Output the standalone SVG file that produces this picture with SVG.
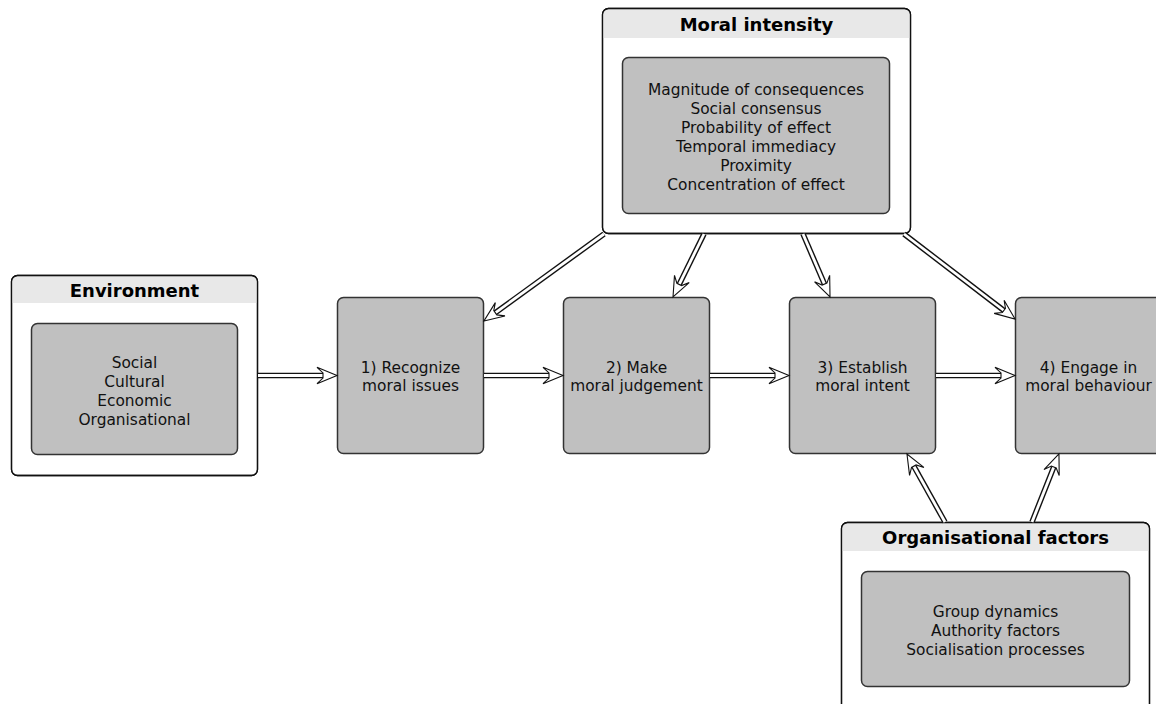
<svg xmlns="http://www.w3.org/2000/svg" width="1156" height="704" viewBox="0 0 1156 704">
<style>
.outer{fill:#fff;stroke:#111;stroke-width:1.3}
.frame{fill:none;stroke:#111;stroke-width:1.3}
.hdr{fill:#e8e8e8;stroke:none}
.inner{fill:#c0c0c0;stroke:#333;stroke-width:1.5}
.title{font-family:"DejaVu Sans",Verdana,sans-serif;font-size:18px;font-weight:bold;fill:#000;text-anchor:middle}
.txt{font-family:"DejaVu Sans",Verdana,sans-serif;font-size:15.4px;fill:#111;text-anchor:middle}
.sb{fill:none;stroke:#111;stroke-width:5.6}
.sw{fill:none;stroke:#fff;stroke-width:2.8;marker-end:url(#ah)}
</style>
<defs>
<marker id="ah" viewBox="0 0 24 18" markerWidth="24" markerHeight="18" refX="8" refY="9" markerUnits="userSpaceOnUse" orient="auto" overflow="visible">
<path d="M22,9 L2,0.8 L8,6.4 L8,11.6 L2,17.2 Z" fill="#fff" stroke="#111" stroke-width="1.1" stroke-linejoin="miter"/>
</marker>
</defs>

<g id="environment">
<rect class="outer" x="11.5" y="275.5" width="246" height="200" rx="6"/>
<path class="hdr" d="M12.2,303 V281.5 a5.3,5.3 0 0 1 5.3,-5.3 H251.5 a5.3,5.3 0 0 1 5.3,5.3 V303 Z"/>
<rect class="frame" x="11.5" y="275.5" width="246" height="200" rx="6"/>
<text class="title" x="134.5" y="297">Environment</text>
<rect class="inner" x="31.5" y="323.5" width="206" height="131" rx="6"/>
<text class="txt" x="134.5" y="368">Social</text>
<text class="txt" x="134.5" y="387">Cultural</text>
<text class="txt" x="134.5" y="406">Economic</text>
<text class="txt" x="134.5" y="425">Organisational</text>
</g>

<g id="moral-intensity">
<rect class="outer" x="602.5" y="8.5" width="308" height="225" rx="6"/>
<path class="hdr" d="M603.2,38 V14.5 a5.3,5.3 0 0 1 5.3,-5.3 H904.5 a5.3,5.3 0 0 1 5.3,5.3 V38 Z"/>
<rect class="frame" x="602.5" y="8.5" width="308" height="225" rx="6"/>
<text class="title" x="756.5" y="31">Moral intensity</text>
<rect class="inner" x="622.5" y="57.5" width="267" height="156" rx="6"/>
<text class="txt" x="756" y="95">Magnitude of consequences</text>
<text class="txt" x="756" y="114">Social consensus</text>
<text class="txt" x="756" y="133">Probability of effect</text>
<text class="txt" x="756" y="152">Temporal immediacy</text>
<text class="txt" x="756" y="171">Proximity</text>
<text class="txt" x="756" y="190">Concentration of effect</text>
</g>

<g id="organisational-factors">
<rect class="outer" x="841.5" y="522.5" width="308" height="200" rx="6"/>
<path class="hdr" d="M842.2,551 V528.5 a5.3,5.3 0 0 1 5.3,-5.3 H1143.5 a5.3,5.3 0 0 1 5.3,5.3 V551 Z"/>
<rect class="frame" x="841.5" y="522.5" width="308" height="200" rx="6"/>
<text class="title" x="995.5" y="544">Organisational factors</text>
<rect class="inner" x="861.5" y="571.5" width="268" height="115" rx="6"/>
<text class="txt" x="995.5" y="617">Group dynamics</text>
<text class="txt" x="995.5" y="636">Authority factors</text>
<text class="txt" x="995.5" y="655">Socialisation processes</text>
</g>

<g id="step1">
<rect class="inner" x="337.5" y="297.5" width="146" height="156" rx="6"/>
<text class="txt" x="410.5" y="373">1) Recognize</text>
<text class="txt" x="410.5" y="391">moral issues</text>
</g>
<g id="step2">
<rect class="inner" x="563.5" y="297.5" width="146" height="156" rx="6"/>
<text class="txt" x="636.5" y="373">2) Make</text>
<text class="txt" x="636.5" y="391">moral judgement</text>
</g>
<g id="step3">
<rect class="inner" x="789.5" y="297.5" width="146" height="156" rx="6"/>
<text class="txt" x="862.5" y="373">3) Establish</text>
<text class="txt" x="862.5" y="391">moral intent</text>
</g>
<g id="step4">
<rect class="inner" x="1015.5" y="297.5" width="146" height="156" rx="6"/>
<text class="txt" x="1088.5" y="373">4) Engage in</text>
<text class="txt" x="1088.5" y="391">moral behaviour</text>
</g>

<g id="connectors">
<path class="sb" d="M258,375.5 H323"/><path class="sw" d="M258,375.5 H323"/>
<path class="sb" d="M484,375.5 H549"/><path class="sw" d="M484,375.5 H549"/>
<path class="sb" d="M710,375.5 H775"/><path class="sw" d="M710,375.5 H775"/>
<path class="sb" d="M936,375.5 H1001"/><path class="sw" d="M936,375.5 H1001"/>
<path class="sb" d="M604,234 L495.3,312.8"/><path class="sw" d="M604,234 L495.3,312.8"/>
<path class="sb" d="M704,234 L679.2,284.4"/><path class="sw" d="M704,234 L679.2,284.4"/>
<path class="sb" d="M803,234 L824.5,284.1"/><path class="sw" d="M803,234 L824.5,284.1"/>
<path class="sb" d="M904,234 L1003.9,310.5"/><path class="sw" d="M904,234 L1003.9,310.5"/>
<path class="sb" d="M945,522 L913.8,466.2"/><path class="sw" d="M945,522 L913.8,466.2"/>
<path class="sb" d="M1032,522 L1053.8,467"/><path class="sw" d="M1032,522 L1053.8,467"/>
</g>
</svg>
